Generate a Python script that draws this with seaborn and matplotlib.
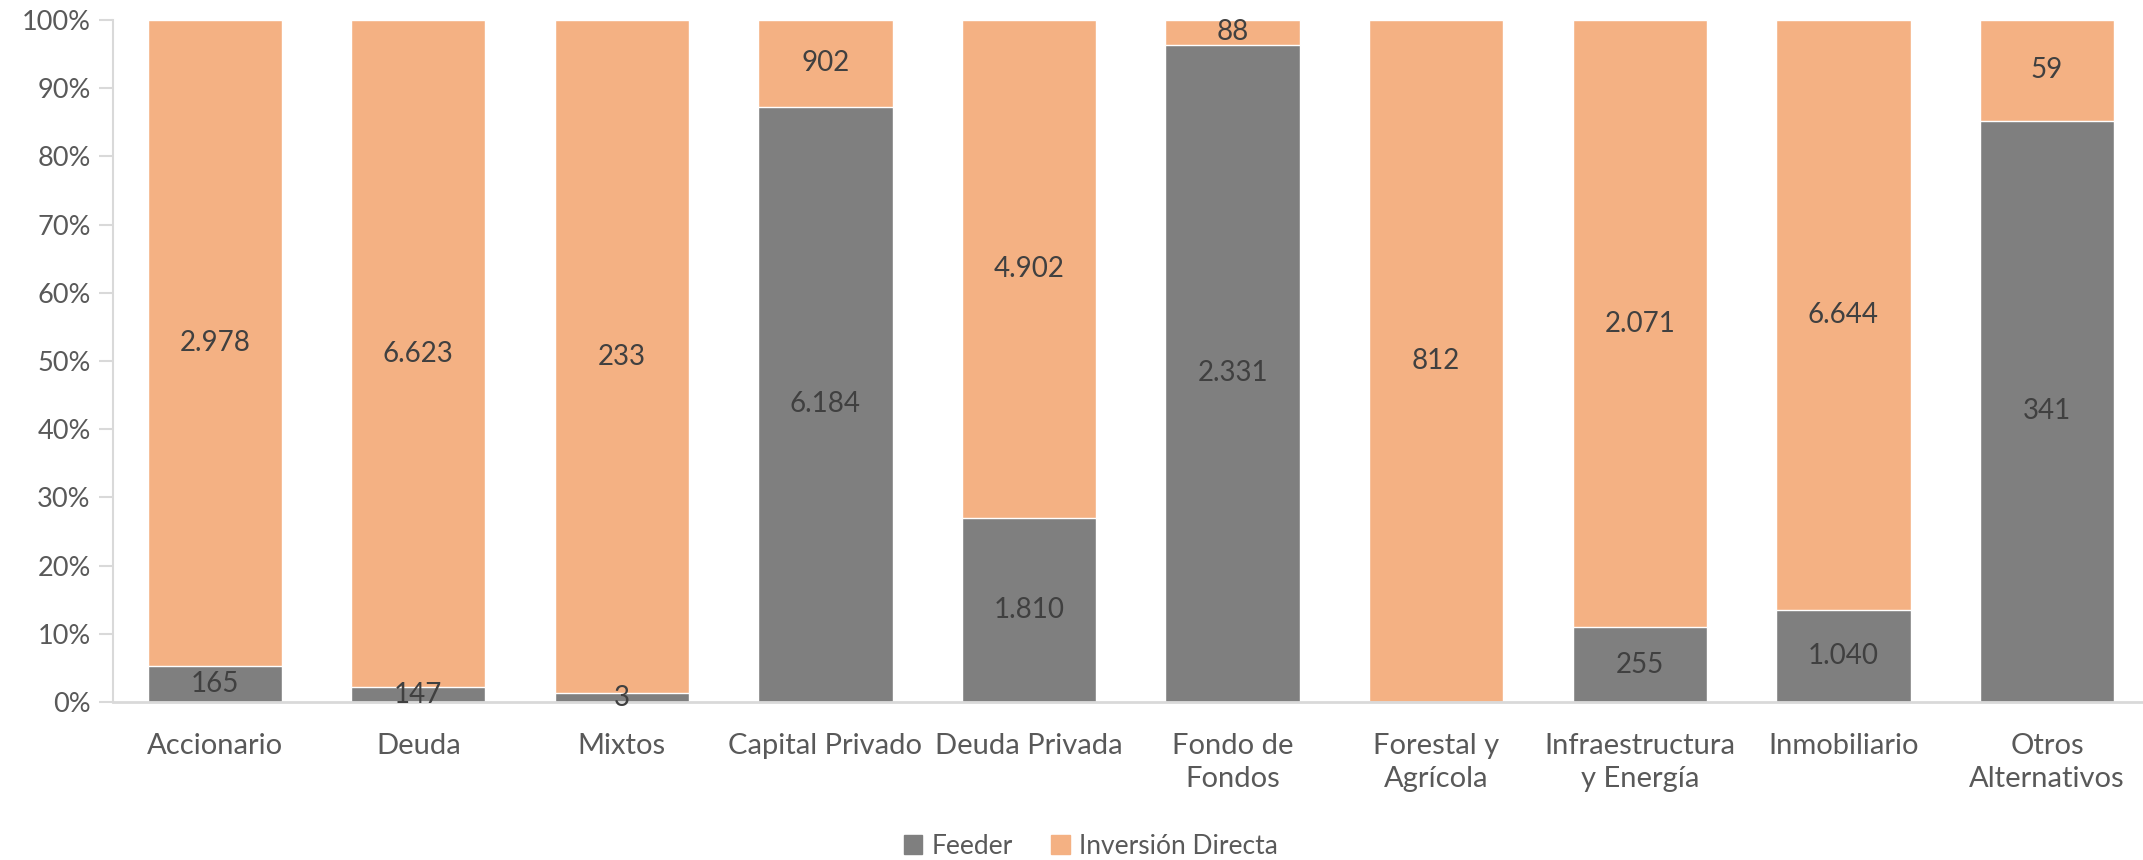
import numpy as np
import pandas as pd
import seaborn as sns
import matplotlib.pyplot as plt
from matplotlib.patches import Patch
from matplotlib.ticker import PercentFormatter

# datos
categorias = ['Accionario', 'Deuda', 'Mixtos', 'Capital Privado', 'Deuda Privada',
              'Fondo de\nFondos', 'Forestal y\nAgrícola', 'Infraestructura\ny Energía',
              'Inmobiliario', 'Otros\nAlternativos']
feeder = [165, 147, 3, 6184, 1810, 2331, 0, 255, 1040, 341]
inversion_directa = [2978, 6623, 233, 902, 4902, 88, 812, 2071, 6644, 59]

df = pd.DataFrame({'categoria': categorias, 'Feeder': feeder,
                   'Inversión Directa': inversion_directa})
df['total'] = df['Feeder'] + df['Inversión Directa']
df['feeder_pct'] = df['Feeder'] / df['total'] * 100
df['id_pct'] = df['Inversión Directa'] / df['total'] * 100
df['tot_pct'] = df['feeder_pct'] + df['id_pct']

gris = '#7f7f7f'
naranja = '#f4b183'
txt_eje = '#595959'
txt_dato = '#404040'

sns.set_style('white')
plt.rcParams['font.family'] = ['Lato', 'DejaVu Sans']

fig = plt.figure(figsize=(21.43, 8.6), dpi=100)
ax = fig.add_axes([0.0527, 0.1837, 0.95, 0.793])

# barra total (naranja) y encima la parte feeder (gris)
sns.barplot(data=df, x='categoria', y='tot_pct', color=naranja, width=0.66,
            saturation=1, ax=ax)
sns.barplot(data=df, x='categoria', y='feeder_pct', color=gris, width=0.66,
            saturation=1, ax=ax)

def fmt(v):
    return f'{v:,}'.replace(',', '.')

for i, row in df.iterrows():
    if row['Feeder'] > 0:
        ax.text(i, row['feeder_pct'] / 2, fmt(row['Feeder']), ha='center', va='center',
                fontsize=20, color=txt_dato)
    if row['Inversión Directa'] > 0:
        ax.text(i, row['feeder_pct'] + row['id_pct'] / 2, fmt(row['Inversión Directa']),
                ha='center', va='center', fontsize=20, color=txt_dato)

ax.set_xlim(-0.5, 9.5)
ax.set_ylim(0, 100)
ax.set_yticks(np.arange(0, 101, 10))
ax.yaxis.set_major_formatter(PercentFormatter(decimals=0))
ax.set_xlabel('')
ax.set_ylabel('')
ax.tick_params(axis='y', labelsize=19.5, colors=txt_eje, length=10, width=1.5,
               left=True, color='#d9d9d9', pad=6)
ax.tick_params(axis='x', labelsize=21, colors=txt_eje, length=0, pad=22)
for lbl in ax.get_yticklabels():
    lbl.set_color(txt_eje)
for lbl in ax.get_xticklabels():
    lbl.set_linespacing(1.35)

sns.despine(ax=ax, top=True, right=True)
ax.spines['left'].set_color('#d9d9d9')
ax.spines['left'].set_linewidth(1.5)
ax.spines['bottom'].set_color('#d9d9d9')
ax.spines['bottom'].set_linewidth(2)

handles = [Patch(color=gris, label='Feeder'), Patch(color=naranja, label='Inversión Directa')]
leg = fig.legend(handles=handles, loc='center', bbox_to_anchor=(0.509, 0.016), ncol=2,
                 frameon=False, fontsize=19, handlelength=0.7, handleheight=0.7,
                 handletextpad=0.35, columnspacing=1.45)
for t in leg.get_texts():
    t.set_color(txt_eje)

fig.savefig('out.png', dpi=100)
